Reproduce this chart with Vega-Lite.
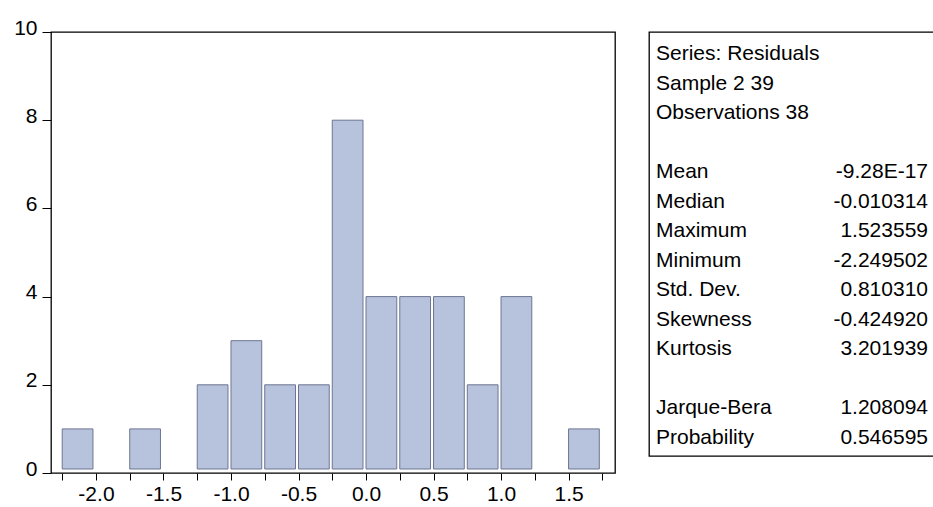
{
  "$schema": "https://vega.github.io/schema/vega-lite/v6.json",
  "autosize": {"type": "pad"},
  "padding": {"left": 12, "top": 16, "right": 0, "bottom": 0},
  "background": "white",
  "bounds": "flush",
  "spacing": 34,
  "config": {
    "font": "Liberation Sans",
    "view": {"stroke": "#000", "strokeWidth": 1.3},
    "axis": {"labelFont": "Liberation Sans", "labelColor": "#000", "tickColor": "#000", "domain": false, "grid": false}
  },
  "datasets": {
    "hist": [
      {"bin_start": -2.25, "bin_end": -2.0, "count": 1},
      {"bin_start": -1.75, "bin_end": -1.5, "count": 1},
      {"bin_start": -1.25, "bin_end": -1.0, "count": 2},
      {"bin_start": -1.0, "bin_end": -0.75, "count": 3},
      {"bin_start": -0.75, "bin_end": -0.5, "count": 2},
      {"bin_start": -0.5, "bin_end": -0.25, "count": 2},
      {"bin_start": -0.25, "bin_end": 0.0, "count": 8},
      {"bin_start": 0.0, "bin_end": 0.25, "count": 4},
      {"bin_start": 0.25, "bin_end": 0.5, "count": 4},
      {"bin_start": 0.5, "bin_end": 0.75, "count": 4},
      {"bin_start": 0.75, "bin_end": 1.0, "count": 2},
      {"bin_start": 1.0, "bin_end": 1.25, "count": 4},
      {"bin_start": 1.5, "bin_end": 1.75, "count": 1}
    ],
    "stats": [
      {"row": 0, "label": "Series: Residuals", "value": ""},
      {"row": 1, "label": "Sample 2 39", "value": ""},
      {"row": 2, "label": "Observations 38", "value": ""},
      {"row": 4, "label": "Mean", "value": "-9.28E-17"},
      {"row": 5, "label": "Median", "value": "-0.010314"},
      {"row": 6, "label": "Maximum", "value": "1.523559"},
      {"row": 7, "label": "Minimum", "value": "-2.249502"},
      {"row": 8, "label": "Std. Dev.", "value": "0.810310"},
      {"row": 9, "label": "Skewness", "value": "-0.424920"},
      {"row": 10, "label": "Kurtosis", "value": "3.201939"},
      {"row": 12, "label": "Jarque-Bera", "value": "1.208094"},
      {"row": 13, "label": "Probability", "value": "0.546595"}
    ]
  },
  "hconcat": [
    {
      "width": 564,
      "height": 441,
      "data": {"name": "hist"},
      "mark": {"type": "bar", "fill": "#b7c2dc", "stroke": "#6d7692", "strokeWidth": 1, "x2Offset": -3, "y2Offset": -4},
      "encoding": {
        "x": {
          "field": "bin_start", "type": "quantitative",
          "scale": {"domain": [-2.333, 1.844], "nice": false, "zero": false},
          "axis": {
            "title": null,
            "values": [-2.25, -2.0, -1.75, -1.5, -1.25, -1.0, -0.75, -0.5, -0.25, 0, 0.25, 0.5, 0.75, 1.0, 1.25, 1.5, 1.75],
            "labelExpr": "abs(datum.value * 2 - round(datum.value * 2)) < 0.01 ? (datum.value < 0 ? '-' : '') + format(abs(datum.value), '.1f') : ''",
            "tickSize": 7, "labelPadding": 3, "labelFontSize": 21, "labelFlush": false, "labelOverlap": false
          }
        },
        "x2": {"field": "bin_end"},
        "y": {
          "field": "count", "type": "quantitative",
          "scale": {"domain": [0, 10], "nice": false},
          "axis": {"title": null, "values": [0, 2, 4, 6, 8, 10], "tickSize": 9, "labelPadding": 5, "labelOffset": -4, "labelFontSize": 21}
        },
        "y2": {"datum": 0}
      }
    },
    {
      "width": 285,
      "height": 424,
      "data": {"name": "stats"},
      "encoding": {
        "y": {"field": "row", "type": "quantitative", "scale": {"domain": [-0.746, 13.627], "nice": false, "zero": false, "reverse": true}, "axis": null}
      },
      "layer": [
        {
          "mark": {"type": "text", "align": "left", "baseline": "middle", "fontSize": 21, "font": "Liberation Sans", "color": "#000", "dx": 7},
          "encoding": {
            "x": {"datum": 0, "type": "quantitative", "scale": {"domain": [0, 1]}, "axis": null},
            "text": {"field": "label"}
          }
        },
        {
          "mark": {"type": "text", "align": "right", "baseline": "middle", "fontSize": 21, "font": "Liberation Sans", "color": "#000", "dx": -6},
          "encoding": {
            "x": {"datum": 1, "type": "quantitative", "scale": {"domain": [0, 1]}, "axis": null},
            "text": {"field": "value"}
          }
        }
      ]
    }
  ]
}
